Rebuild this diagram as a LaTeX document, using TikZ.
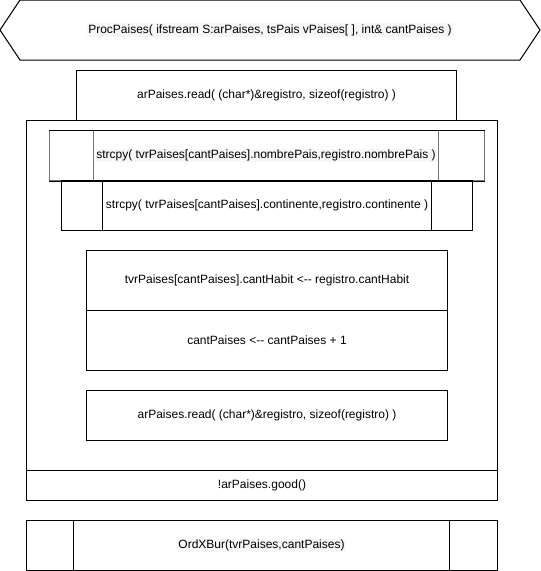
\documentclass[tikz,border=0pt]{standalone}
\usepackage{fontspec}
\setmainfont{Liberation Sans}
\begin{document}
\begin{tikzpicture}[x=1pt,y=-1pt,
  blk/.style={draw=black, line width=1pt, inner sep=0pt, font=\fontsize{12}{14}\selectfont, anchor=north west},
  side/.style={draw=black!55, line width=1pt, inner sep=0pt, anchor=north west},
  hl/.style={fill=black!3, inner sep=1pt, font=\fontsize{12}{14}\selectfont}]
\useasboundingbox (0,0) rectangle (541,571);
% header hexagon
\draw[line width=1pt] (0,30) -- (20,0) -- (520,0) -- (540,30) -- (520,60) -- (20,60) -- cycle;
\node[hl] (proc) at (270,30) {ProcPaises( ifstream S:arPaises, tsPais vPaises[ ], int\& cantPaises )};
% first read
\node[blk, minimum width=380pt, minimum height=50pt] (read1) at (76,70) {arPaises.read( (char*)\&registro, sizeof(registro) )};
% loop body
\node[blk, minimum width=471pt, minimum height=350pt] (loop) at (26,120) {};
\node[blk, minimum width=471pt, minimum height=30pt] (cond) at (26,470) {!arPaises.good()};
% strcpy 1
\node[side, minimum width=44pt, minimum height=50pt] (s1l) at (49,130) {};
\node[side, minimum width=46pt, minimum height=50pt] (s1r) at (438,130) {};
\node[side, minimum width=345pt, minimum height=50pt] (s1) at (93,130) {};
\draw[line width=1pt] (s1l.north west) -- (s1r.north east) (s1l.south west) -- (s1r.south east);
\node[hl] (s1t) at (s1.center) {strcpy( tvrPaises[cantPaises].nombrePais,registro.nombrePais )};
% strcpy 2
\node[blk, minimum width=41pt, minimum height=50pt] (s2l) at (61,180) {};
\node[blk, minimum width=41pt, minimum height=50pt] (s2r) at (431,180) {};
\node[blk, minimum width=329pt, minimum height=50pt] (s2) at (102,180) {strcpy( tvrPaises[cantPaises].continente,registro.continente )};
% assignments
\node[blk, minimum width=361pt, minimum height=60pt] (hab) at (86,250) {tvrPaises[cantPaises].cantHabit <-{}- registro.cantHabit};
\node[blk, minimum width=361pt, minimum height=60pt] (inc) at (86,310) {cantPaises <-{}- cantPaises + 1};
\node[blk, minimum width=361pt, minimum height=50pt] (read2) at (86,390) {arPaises.read( (char*)\&registro, sizeof(registro) )};
% call
\node[blk, minimum width=47pt, minimum height=50pt] (cl) at (26,520) {};
\node[blk, minimum width=48pt, minimum height=50pt] (cr) at (449,520) {};
\node[blk, minimum width=376pt, minimum height=50pt] (call) at (73,520) {};
\node[hl] (callt) at (call.center) {OrdXBur(tvrPaises,cantPaises)};
\end{tikzpicture}
\end{document}
